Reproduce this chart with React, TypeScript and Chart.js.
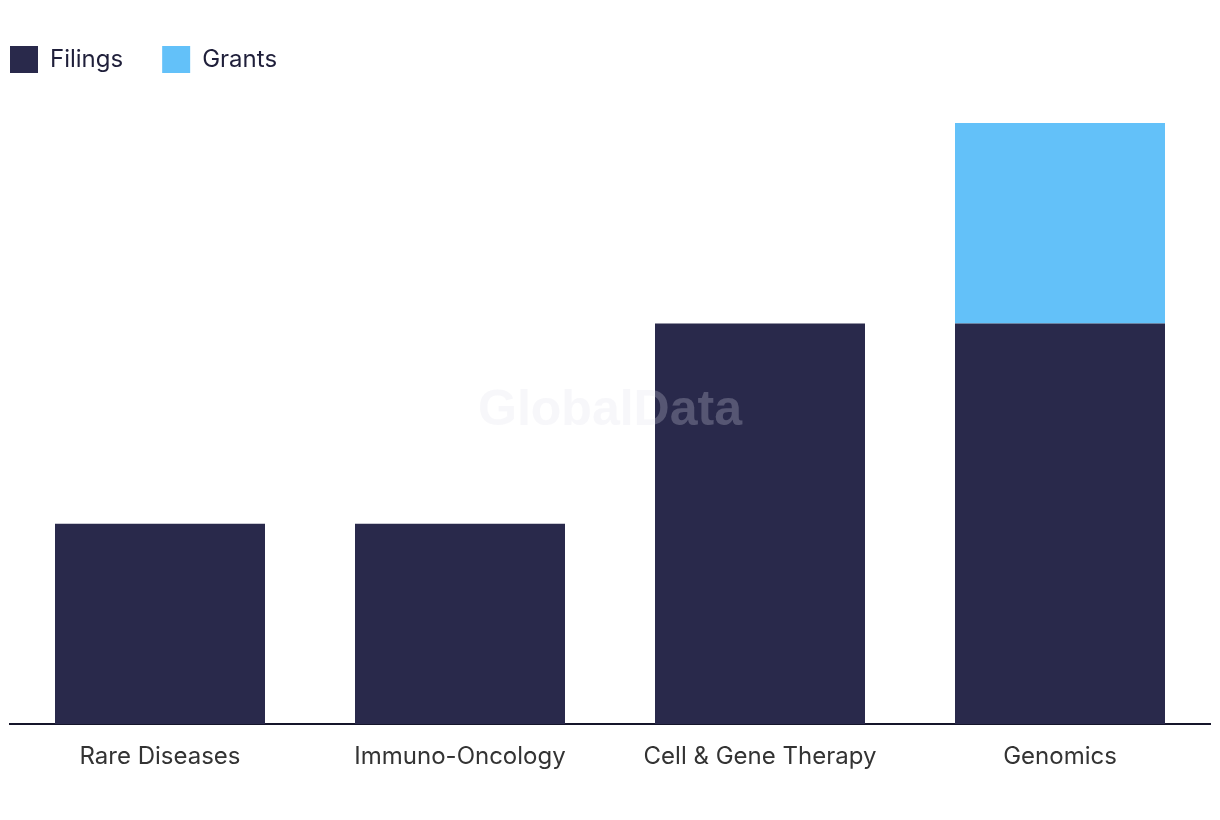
import React, { useEffect, useRef } from "react";
import { Chart, registerables } from "chart.js";

Chart.register(...registerables);

const categories = ["Rare Diseases", "Immuno-Oncology", "Cell & Gene Therapy", "Genomics"];
const filings = [1, 1, 2, 2];
const grants = [0, 0, 0, 1];
const seriesNames = ["Filings", "Grants"];
const yMax = 3;

const NAVY = "#29294b";
const BLUE = "#63c1f9";
const LEGEND_PAD = 39;

const legendExtra = {
  id: "legendExtra",
  beforeInit(chart: any) {
    const legend = chart.legend;
    if (!legend) return;
    const origFit = legend.fit;
    legend.fit = function () {
      origFit.call(this);
      this.height += 40;
    };
  },
  afterLayout(chart: any) {
    if (chart.legend) chart.legend.left -= LEGEND_PAD;
  },
};

const watermark = {
  id: "watermark",
  afterDatasetsDraw(chart: any) {
    const { ctx, chartArea } = chart;
    ctx.save();
    ctx.font = "bold 50px 'Liberation Sans', Arial, sans-serif";
    ctx.fillStyle = "rgba(225,225,235,0.25)";
    ctx.textAlign = "center";
    ctx.textBaseline = "middle";
    ctx.fillText("GlobalData", (chartArea.left + chartArea.right) / 2, 411);
    ctx.restore();
  },
};

export default function App() {
  const ref = useRef<HTMLCanvasElement>(null);
  useEffect(() => {
    if (!ref.current) return;
    const chart = new Chart(ref.current, {
      type: "bar",
      data: {
        labels: categories,
        datasets: [
          { label: seriesNames[0], data: filings, backgroundColor: NAVY },
          { label: seriesNames[1], data: grants, backgroundColor: BLUE },
        ],
      },
      options: {
        animation: false,
        responsive: true,
        maintainAspectRatio: false,
        layout: { padding: { left: 10, right: 10, top: 7, bottom: 39 } },
        datasets: { bar: { barPercentage: 0.7, categoryPercentage: 1 } },
        plugins: {
          legend: {
            position: "top",
            align: "start",
            labels: {
              boxWidth: 28,
              boxHeight: 27,
              padding: LEGEND_PAD,
              color: "#1f1f3a",
              font: { family: "Inter, 'Noto Sans', sans-serif", size: 24 },
            },
          },
          tooltip: { enabled: false },
        },
        scales: {
          x: {
            stacked: true,
            grid: { display: false },
            border: { display: true, color: "#15152a", width: 2 },
            ticks: {
              color: "#333333",
              padding: 10,
              font: { family: "Inter, 'Noto Sans', sans-serif", size: 24 },
            },
          },
          y: {
            stacked: true,
            display: false,
            min: 0,
            max: yMax,
          },
        },
      },
      plugins: [legendExtra, watermark],
    });
    return () => chart.destroy();
  }, []);
  return (
    <div style={{ position: "fixed", left: 0, top: 0, width: 1220, height: 820, background: "#fff" }}>
      <canvas ref={ref} />
    </div>
  );
}
